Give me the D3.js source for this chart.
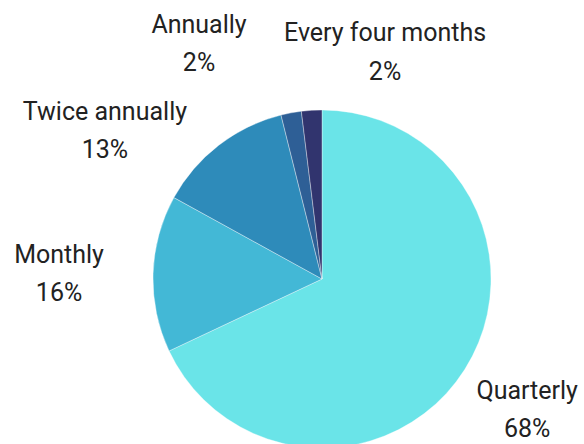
<!DOCTYPE html>
<html lang="en">
<head>
    <meta charset="UTF-8">
    <title>pie</title>
    <script src="https://cdn.jsdelivr.net/npm/d3@7"></script>
    <style>
        body { margin: 0; background: #fff; }
        text { font-family: Roboto, "Noto Sans", sans-serif; }
    </style>
</head>
<body>

<script>
    var width = 584;
    var height = 444;

    // data
    var categories = ["Quarterly", "Monthly", "Twice annually", "Annually", "Every four months"];
    var values = [68.0, 15.0, 13.1, 1.95, 1.95];
    var pctLabels = ["68%", "16%", "13%", "2%", "2%"];
    var colors = ["#6ae4e8", "#43b8d6", "#2e8bba", "#2e5f96", "#31346e"];

    // label placement: angle nudge (deg) from slice middle, and distance from centre
    var labelNudge = [0, -0.5, -18, -17, 19];
    var labelDist = [243, 263, 263, 266, 236];

    var cx = 322, cy = 279, radius = 169;

    var svg = d3.select("body")
                .append("svg")
                .attr("width", width)
                .attr("height", height);

    var pie = d3.pie()
                .sort(null)
                .value(function (d) { return d; });

    var arc = d3.arc()
                .innerRadius(0)
                .outerRadius(radius);

    var arcs = pie(values);

    var g = svg.append("g")
               .attr("transform", "translate(" + cx + "," + cy + ")");

    g.selectAll("path")
        .data(arcs)
        .enter()
        .append("path")
        .attr("d", arc)
        .attr("fill", function (d, i) { return colors[i]; })
        .attr("stroke", "#ffffff")
        .attr("stroke-opacity", 0.6)
        .attr("stroke-width", 0.6);

    // labels: two lines, name then percent
    var labels = g.selectAll("g.lbl")
        .data(arcs)
        .enter()
        .append("g")
        .attr("class", "lbl")
        .attr("transform", function (d, i) {
            var a = (d.startAngle + d.endAngle) / 2 + labelNudge[i] * Math.PI / 180;
            var r = labelDist[i];
            return "translate(" + (r * Math.sin(a)) + "," + (-r * Math.cos(a)) + ")";
        });

    labels.append("text")
        .attr("text-anchor", "middle")
        .attr("y", -10.5)
        .attr("font-size", 25)
        .attr("fill", "#222")
        .text(function (d, i) { return categories[i]; });

    labels.append("text")
        .attr("text-anchor", "middle")
        .attr("y", 28)
        .attr("font-size", 25)
        .attr("fill", "#222")
        .text(function (d, i) { return pctLabels[i]; });
</script>
</body>
</html>
